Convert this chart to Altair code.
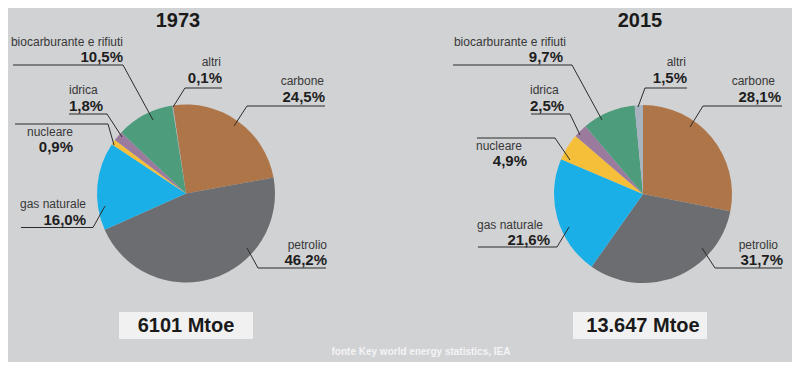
import math
import altair as alt
import pandas as pd

# ---------------- data ----------------
categories = ["carbone", "petrolio", "gas naturale", "nucleare", "idrica",
              "biocarburante e rifiuti", "altri"]
years = ["1973", "2015"]
values_1973 = [24.5, 46.2, 16.0, 0.9, 1.8, 10.5, 0.1]
values_2015 = [28.1, 31.7, 21.6, 4.9, 2.5, 9.7, 1.5]
totals = ["6101 Mtoe", "13.647 Mtoe"]
source_note = "fonte Key world energy statistics, IEA"

# ---------------- styles / layout ----------------
colors = ["#AE7548", "#6C6D70", "#1AAFE6", "#F5BF3A", "#9A7A9D", "#4D9C7C", "#A7B3C1"]
bg = "#D1D2D4"
font = "Liberation Sans"

pie_cx = [186, 643]
pie_cy = [193.5, 194]
pie_radius = 89
pie_start_deg = [-8.5, 0.0]

title_x = [178, 640]
title_y = [21, 21]
box_x1 = [119, 573]
box_x2 = [253, 707]
box_y1 = [312, 312]
box_y2 = [339, 339]
box_text_x = [186, 643]
box_text_y = [326, 326]
note_x = [421]
note_y = [352]

# per year, in category order
lab_align = [
    ["right", "right", "right", "right", "left", "right", "right"],
    ["right", "right", "right", "right", "left", "right", "right"],
]
name_x = [[324, 327, 86, 73, 69, 123, 221], [775, 778, 543, 522, 530, 566, 686]]
name_y = [[81, 245, 204, 132, 90, 42, 62], [81, 245, 225, 146, 90, 42, 62]]
pct_x = [[325, 327, 86, 73, 69, 123, 222], [781, 783, 550, 527, 530, 563, 687]]
pct_y = [[97, 259.5, 219.5, 147, 106, 57, 78], [97, 259.5, 240, 161, 106, 57, 78]]
line_y = [[106, 268, 227.5, 124, 114, 65, 88], [106, 268, 247, 138, 114, 65, 88]]
line_xh = [[325, 326, 21, 15, 69, 13, 222], [782, 782, 478, 477, 531, 453, 687]]
line_xc = [[247, 258, 93, 108, 107, 123, 185], [703, 715, 557, 555, 570, 572, 645]]
tip_x = [[234, 247, 105, 114, 122, 153, 173], [690, 702, 569, 570, 580, 602, 638]]
tip_y = [[126, 248, 206, 145, 137, 120, 107], [127, 248, 227, 160, 135, 120, 107]]

# ---------------- tables ----------------
values = [values_1973, values_2015]
pie_rows, label_rows, seg_rows = [], [], []
for yi, yr in enumerate(years):
    for ci, cat in enumerate(categories):
        v = values[yi][ci]
        pie_rows.append(dict(year=yr, cat=cat, idx=ci, value=v,
                             cx=pie_cx[yi], cy=pie_cy[yi]))
        label_rows.append(dict(year=yr, cat=cat, align=lab_align[yi][ci],
                               nx=name_x[yi][ci], ny=name_y[yi][ci],
                               px=pct_x[yi][ci], py=pct_y[yi][ci],
                               pct=f"{v:.1f}".replace(".", ",") + "%"))
        seg_rows.append(dict(x=line_xh[yi][ci], y=line_y[yi][ci],
                             x2=line_xc[yi][ci], y2=line_y[yi][ci]))
        seg_rows.append(dict(x=line_xc[yi][ci], y=line_y[yi][ci],
                             x2=tip_x[yi][ci], y2=tip_y[yi][ci]))

pies = pd.DataFrame(pie_rows)
labels = pd.DataFrame(label_rows)
segs = pd.DataFrame(seg_rows)
heads = pd.DataFrame(dict(year=years, total=totals, tx=title_x, ty=title_y,
                          bx1=box_x1, bx2=box_x2, by1=box_y1, by2=box_y2,
                          btx=box_text_x, bty=box_text_y))
note = pd.DataFrame(dict(text=[source_note], x=note_x, y=note_y))

W, H = 784, 354
xs = alt.Scale(domain=[8, 8 + W], nice=False, zero=False)
ys = alt.Scale(domain=[8 + H, 8], nice=False, zero=False)


def X(f):
    return alt.X(f, type="quantitative", scale=xs, axis=None)


def Y(f):
    return alt.Y(f, type="quantitative", scale=ys, axis=None)


color = alt.Color("cat:N", scale=alt.Scale(domain=categories, range=colors), legend=None)

pie_layers = []
for yi, yr in enumerate(years):
    a0 = 2 * math.pi + math.radians(pie_start_deg[yi])
    pie_layers.append(
        alt.Chart(pies).transform_filter(alt.datum.year == yr)
        .mark_arc(outerRadius=pie_radius, stroke=None)
        .encode(x=X("cx"), y=Y("cy"),
                theta=alt.Theta("value:Q", stack=True,
                                scale=alt.Scale(domain=[0, 100], range=[a0, a0 + 2 * math.pi])),
                color=color, order=alt.Order("idx:Q"))
    )

rules = alt.Chart(segs).mark_rule(color="#2b2b2b", strokeWidth=1).encode(
    x=X("x"), y=Y("y"), x2="x2", y2="y2")

text_layers = []
for al in ["left", "right"]:
    base = alt.Chart(labels).transform_filter(alt.datum.align == al)
    text_layers.append(base.mark_text(align=al, baseline="middle", font=font, fontSize=12,
                                      color="#383838")
                       .encode(x=X("nx"), y=Y("ny"), text="cat:N"))
    text_layers.append(base.mark_text(align=al, baseline="middle", font=font, fontSize=15,
                                      fontWeight="bold", color="#1e1e1e")
                       .encode(x=X("px"), y=Y("py"), text="pct:N"))

titles = alt.Chart(heads).mark_text(align="center", baseline="middle", font=font,
                                    fontSize=20, fontWeight="bold", color="#1a1a1a").encode(
    x=X("tx"), y=Y("ty"), text="year:N")
boxes = alt.Chart(heads).mark_rect(color="#F1F1F2").encode(
    x=X("bx1"), x2="bx2", y=Y("by1"), y2="by2")
box_text = alt.Chart(heads).mark_text(align="center", baseline="middle", font=font,
                                      fontSize=20, fontWeight="bold", color="#1a1a1a").encode(
    x=X("btx"), y=Y("bty"), text="total:N")
note_text = alt.Chart(note).mark_text(align="center", baseline="middle", font=font,
                                      fontSize=10, fontWeight="bold", color="#F4F4F4").encode(
    x=X("x"), y=Y("y"), text="text:N")

chart = alt.layer(*pie_layers, rules, *text_layers, titles, boxes, box_text, note_text).resolve_scale(
    theta="independent").properties(
    width=W, height=H, padding=0, background=bg,
    autosize=alt.AutoSizeParams(type="none")
).configure_view(stroke=None)

chart.save("out.html", embed_options={"renderer": "svg", "actions": False})
